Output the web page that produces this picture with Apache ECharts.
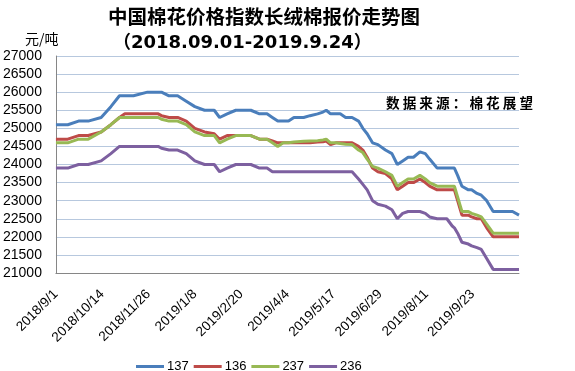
<!DOCTYPE html>
<html>
<head>
<meta charset="utf-8">
<script src="https://cdn.jsdelivr.net/npm/echarts@6/dist/echarts.min.js"></script>
<style>
html,body{margin:0;padding:0;background:#fff;}
#chart{width:575px;height:371px;}
</style>
</head>
<body>
<div id="chart"></div>
<script>
// ---- data ----
const dates = [
  "2018-09-01","2018-09-12","2018-09-22","2018-10-01","2018-10-13","2018-10-22","2018-10-30","2018-11-04","2018-11-12","2018-11-25",
  "2018-12-05","2018-12-08","2018-12-15","2018-12-23","2018-12-31","2019-01-08","2019-01-17","2019-01-26","2019-01-31","2019-02-07",
  "2019-02-15","2019-03-01","2019-03-09","2019-03-16","2019-03-21","2019-03-26","2019-03-31","2019-04-05","2019-04-10","2019-04-19",
  "2019-04-25","2019-05-02","2019-05-07","2019-05-10","2019-05-14","2019-05-19","2019-05-23","2019-05-28","2019-06-03","2019-06-09",
  "2019-06-13","2019-06-17","2019-06-22","2019-06-27","2019-07-04","2019-07-10","2019-07-15","2019-07-20","2019-07-25","2019-07-30",
  "2019-08-05","2019-08-10","2019-08-14","2019-08-21","2019-08-30","2019-09-04","2019-09-06","2019-09-09","2019-09-13","2019-09-19",
  "2019-09-22","2019-09-27","2019-10-01","2019-10-06","2019-10-12","2019-10-21","2019-10-30","2019-11-05"
];
const s137 = [
  25100,25100,25200,25200,25300,25600,25900,25900,25900,26000,
  26000,26000,25900,25900,25750,25600,25500,25500,25300,25400,
  25500,25500,25400,25400,25300,25200,25200,25200,25300,25300,
  25350,25400,25450,25500,25400,25400,25400,25300,25300,25200,
  25000,24850,24600,24550,24400,24300,24000,24100,24200,24200,
  24350,24300,24150,23900,23900,23900,23900,23700,23400,23300,
  23300,23200,23150,23000,22700,22700,22700,22600
];
const s136 = [
  24700,24700,24800,24800,24900,25100,25300,25400,25400,25400,
  25400,25350,25300,25300,25200,25000,24900,24850,24700,24800,
  24800,24800,24700,24700,24650,24600,24600,24600,24600,24600,
  24600,24620,24630,24650,24550,24600,24600,24600,24600,24500,
  24400,24200,23900,23800,23750,23600,23300,23400,23500,23500,
  23600,23500,23400,23300,23300,23300,23300,23000,22600,22600,
  22550,22500,22500,22250,22000,22000,22000,22000
];
const s237 = [
  24600,24600,24700,24700,24900,25100,25300,25300,25300,25300,
  25300,25250,25200,25200,25100,24900,24800,24800,24600,24700,
  24800,24800,24700,24700,24600,24500,24600,24600,24620,24640,
  24650,24660,24680,24700,24600,24600,24580,24560,24550,24400,
  24330,24150,23950,23900,23800,23700,23400,23500,23600,23600,
  23700,23600,23500,23400,23400,23400,23400,23100,22700,22700,
  22650,22600,22550,22350,22100,22100,22100,22100
];
const s236 = [
  23900,23900,24000,24000,24100,24300,24500,24500,24500,24500,
  24500,24450,24400,24400,24300,24100,24000,24000,23800,23900,
  24000,24000,23900,23900,23800,23800,23800,23800,23800,23800,
  23800,23800,23800,23800,23800,23800,23800,23800,23800,23600,
  23450,23300,23000,22900,22850,22750,22500,22650,22700,22700,
  22700,22650,22550,22500,22500,22300,22250,22100,21850,21800,
  21750,21700,21650,21400,21100,21100,21100,21100
];
const seriesNames = ["137","136","237","236"];
const xTickLabels = ["2018/9/1","2018/10/14","2018/11/26","2019/1/8","2019/2/20","2019/4/4","2019/5/17","2019/6/29","2019/8/11","2019/9/23",""];
const yMin = 21000, yMax = 27000, yStep = 500;
const xStepDays = 43;

// ---- build ----
const DAY = 86400000;
const t0 = Date.UTC(2018, 8, 1);
function dayIndex(s){ const p = s.split("-").map(Number); return Math.round((Date.UTC(p[0], p[1]-1, p[2]) - t0) / DAY); }
const xs = dates.map(dayIndex);
function pairs(arr){ return arr.map((v,i)=>[xs[i], v]); }
const colors = ["#4A7EBB","#BE4B48","#98B954","#7D60A0"];
const allSeries = [s137, s136, s237, s236];

const chart = echarts.init(document.getElementById('chart'), null, {renderer:'canvas'});
chart.setOption({
  animation: false,
  backgroundColor: '#ffffff',
  color: colors,
  title: [
    { text: '中国棉花价格指数长绒棉报价走势图', left: 108, top: 7, padding: 0,
      textStyle: { fontFamily: 'Noto Sans CJK SC', fontSize: 19.5, fontWeight: 'bold', color: '#000' } },
    { text: '（2018.09.01-2019.9.24）', left: 113, top: 34, padding: 0,
      textStyle: { fontFamily: 'DejaVu Sans, Noto Sans CJK SC', fontSize: 18, fontWeight: 'bold', color: '#000' } },
    { text: '元/吨', left: 25, top: 32, padding: 0,
      textStyle: { fontFamily: 'Noto Sans CJK SC', fontSize: 14, fontWeight: 'normal', color: '#000' } },
    { text: '数 据 来 源 ： 棉 花 展 望', left: 386, top: 96, padding: 0,
      textStyle: { fontFamily: 'Noto Sans CJK SC', fontSize: 13.6, fontWeight: 'bold', color: '#000' } }
  ],
  legend: {
    data: seriesNames,
    left: 131, top: 355,
    icon: 'rect', itemWidth: 28, itemHeight: 3, itemGap: 5,
    textStyle: { fontFamily: 'Liberation Sans', fontSize: 13, color: '#000', padding: [0,0,0,-2] }
  },
  grid: { left: 54, right: 56, top: 56, bottom: 98, containLabel: false },
  xAxis: {
    type: 'value', min: 0, max: xStepDays * (xTickLabels.length - 1), interval: xStepDays,
    axisLine: { show: true, lineStyle: { color: '#868686', width: 1 } },
    axisTick: { show: false },
    splitLine: { show: false },
    axisLabel: {
      rotate: 45, margin: 19, fontFamily: 'Liberation Sans', fontSize: 13.5, color: '#000',
      showMinLabel: true, showMaxLabel: true,
      formatter: v => xTickLabels[Math.round(v / xStepDays)] || ''
    }
  },
  yAxis: {
    type: 'value', min: yMin, max: yMax, interval: yStep,
    axisLine: { show: true, lineStyle: { color: '#868686', width: 1 } },
    axisTick: { show: false },
    splitLine: { show: true, lineStyle: { color: '#B7C8DE', width: 1 } },
    axisLabel: { margin: 14, fontFamily: 'Liberation Sans', fontSize: 14, color: '#000',
      formatter: v => String(v) }
  },
  series: seriesNames.map((n, i) => ({
    name: n, type: 'line', data: pairs(allSeries[i]),
    showSymbol: false, symbol: 'none',
    lineStyle: { width: 3, color: colors[i] },
    itemStyle: { color: colors[i] }
  }))
});
</script>
</body>
</html>
